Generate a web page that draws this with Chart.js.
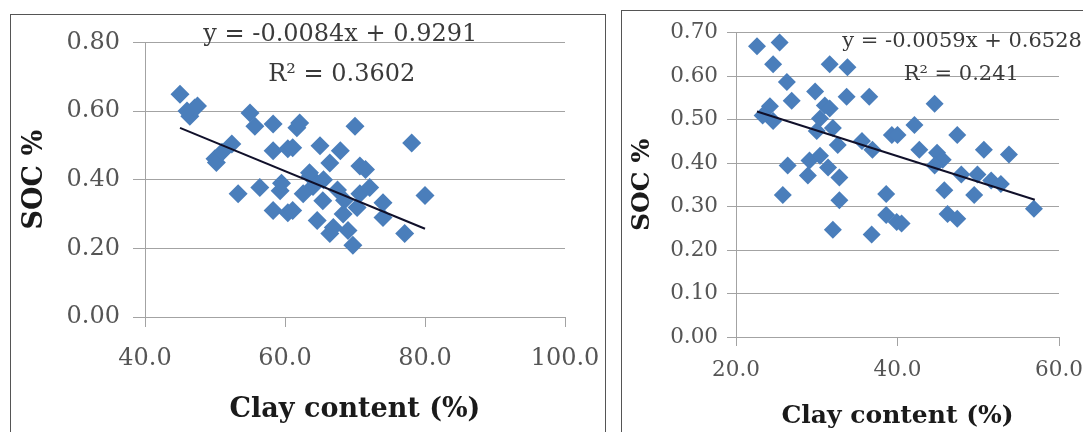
<!DOCTYPE html>
<html lang="en">
<head>
    <meta charset="UTF-8">
    <title>SOC vs clay content</title>
    <script src="https://cdn.jsdelivr.net/npm/chart.js"></script>
    <style>
        html, body {
            margin: 0;
            padding: 0;
            background: #fff;
            overflow: hidden;
        }
        body {
            position: relative;
            width: 1083px;
            height: 432px;
        }
        .panel {
            position: absolute;
            border: 1px solid #555;
            border-bottom: none;
            box-sizing: border-box;
        }
        #panelA { left: 10px; top: 14px; width: 596px; height: 430px; }
        #panelB { left: 621px; top: 10px; width: 480px; height: 440px; }
        canvas { position: absolute; }
        #chartA { left: 11px; top: 15px; }
        #chartB { left: 622px; top: 11px; }
    </style>
</head>
<body>
    <div class="panel" id="panelA"></div>
    <div class="panel" id="panelB"></div>
    <canvas id="chartA" width="593" height="417"></canvas>
    <canvas id="chartB" width="461" height="421"></canvas>

    <script>
        // left panel: clay content (%) vs SOC %
        const leftClay = [45.0, 46.4, 47.1, 46.0, 47.5, 50.0, 50.2, 51.0, 52.4, 53.3, 55.0, 55.7, 56.4, 58.3, 58.3, 58.3, 59.3, 60.4,
            60.4, 61.1, 61.7, 62.1, 61.1, 62.6, 63.6, 64.6, 65.0, 65.4, 66.4, 66.4, 66.9, 67.9, 68.3, 69.0, 69.7, 70.0,
            70.3, 70.7, 70.7, 72.1, 74.0, 74.0, 77.1, 78.1, 80.0, 63.5, 65.5, 67.5, 64.0, 59.5, 68.5, 71.5];
        const leftSOC = [0.649, 0.585, 0.609, 0.600, 0.615, 0.461, 0.450, 0.480, 0.504, 0.359, 0.594, 0.556, 0.377, 0.562, 0.484, 0.310, 0.368, 0.490,
            0.304, 0.493, 0.551, 0.565, 0.310, 0.359, 0.410, 0.281, 0.499, 0.339, 0.449, 0.243, 0.261, 0.484, 0.300, 0.252, 0.209, 0.556,
            0.319, 0.440, 0.359, 0.377, 0.333, 0.290, 0.243, 0.507, 0.354, 0.420, 0.400, 0.370, 0.380, 0.390, 0.340, 0.430];
        const leftTrendX = [45, 80];
        const leftTrendY = [0.551, 0.257];
        const leftEquation = ['y = -0.0084x + 0.9291', 'R\u00B2 = 0.3602'];

        // right panel
        const rightClay = [22.6, 25.4, 24.6, 31.6, 33.8, 26.3, 26.9, 29.8, 31.0, 31.6, 33.7, 36.5, 24.2, 24.6, 23.3, 30.4, 30.0, 32.0,
            32.6, 35.6, 36.9, 39.3, 26.4, 29.1, 30.4, 28.9, 31.4, 32.8, 25.8, 32.8, 38.6, 38.6, 32.0, 36.8, 39.9, 44.6,
            42.1, 47.4, 50.7, 53.8, 40.0, 42.7, 44.9, 45.6, 47.9, 49.9, 51.6, 52.8, 45.8, 49.5, 56.9, 46.2, 47.4, 40.5, 44.6];
        const rightSOC = [0.669, 0.678, 0.628, 0.628, 0.621, 0.587, 0.544, 0.565, 0.533, 0.526, 0.553, 0.553, 0.531, 0.497, 0.510, 0.503, 0.474, 0.481,
            0.442, 0.451, 0.431, 0.465, 0.395, 0.406, 0.417, 0.372, 0.390, 0.367, 0.327, 0.315, 0.329, 0.281, 0.247, 0.236, 0.265, 0.537,
            0.488, 0.465, 0.431, 0.420, 0.465, 0.431, 0.424, 0.408, 0.374, 0.374, 0.360, 0.352, 0.338, 0.327, 0.295, 0.283, 0.272, 0.261, 0.395];
        const rightTrendX = [22.6, 57];
        const rightTrendY = [0.519, 0.316];
        const rightEquation = ['y = -0.0059x + 0.6528', 'R\u00B2 = 0.241'];

        const xTitle = 'Clay content (%)';
        const yTitle = 'SOC %';

        const serif = '"DejaVu Serif", "Liberation Serif", serif';
        const gridColor = '#a3a3a3';

        // writes the trendline equation inside the plot
        const equationText = {
            id: 'equationText',
            afterDatasetsDraw(chart, args, opts) {
                const ctx = chart.ctx;
                const xs = chart.scales.x, ys = chart.scales.y;
                ctx.save();
                ctx.font = opts.size + 'px ' + serif;
                ctx.fillStyle = '#3a3a3a';
                ctx.textAlign = 'center';
                ctx.textBaseline = 'middle';
                opts.lines.forEach((txt, i) => {
                    ctx.fillText(txt, xs.getPixelForValue(opts.at[i][0]), ys.getPixelForValue(opts.at[i][1]));
                });
                ctx.restore();
            }
        };

        function toPoints(xs, ys) {
            return xs.map((x, i) => ({ x: x, y: ys[i] }));
        }

        function buildChart(id, o) {
            new Chart(document.getElementById(id), {
                type: 'scatter',
                data: {
                    datasets: [{
                        type: 'line',
                        data: toPoints(o.trendX, o.trendY),
                        borderColor: '#10102a',
                        borderWidth: 2,
                        pointRadius: 0,
                        order: 0
                    }, {
                        data: toPoints(o.clay, o.soc),
                        pointStyle: 'rectRot',
                        pointRadius: o.markerSize,
                        backgroundColor: '#4a7ebb',
                        borderColor: '#4a7ebb',
                        borderWidth: 0,
                        order: 1
                    }]
                },
                options: {
                    responsive: false,
                    animation: false,
                    layout: { padding: { top: o.padTop, right: o.padRight, left: 0, bottom: 0 } },
                    plugins: {
                        legend: { display: false },
                        tooltip: { enabled: false },
                        equationText: { lines: o.equation, at: o.eqAt, size: o.eqSize }
                    },
                    scales: {
                        x: {
                            type: 'linear',
                            min: o.xMin, max: o.xMax,
                            ticks: {
                                stepSize: 20,
                                callback: v => v.toFixed(1),
                                font: { family: serif, size: o.tickSize },
                                color: '#555',
                                padding: o.xTickPad,
                                maxRotation: 0
                            },
                            grid: { drawOnChartArea: false, tickLength: o.xTickLen, color: gridColor },
                            border: { color: gridColor },
                            title: {
                                display: true, text: xTitle, color: '#1a1a1a',
                                font: { family: serif, size: o.titleSize, weight: 'bold' },
                                padding: { top: o.xTitlePad, bottom: o.xTitlePad }
                            },
                            afterFit: s => {
                                s.height = o.xHeight;
                                // end labels may hang past the plot, like in the original
                                s.paddingLeft = 0;
                                s.paddingRight = 0;
                            }
                        },
                        y: {
                            min: 0, max: o.yMax,
                            ticks: {
                                stepSize: o.yStep,
                                callback: v => v.toFixed(2),
                                font: { family: serif, size: o.tickSize },
                                color: '#555',
                                padding: o.yTickPad
                            },
                            grid: { tickLength: o.yTickLen, color: gridColor },
                            border: { color: gridColor },
                            title: {
                                display: true, text: yTitle, color: '#1a1a1a',
                                font: { family: serif, size: o.titleSize, weight: 'bold' },
                                padding: { top: o.yTitlePad, bottom: o.yTitlePad }
                            },
                            afterFit: s => { s.width = o.yWidth; }
                        }
                    }
                },
                plugins: [equationText]
            });
        }

        buildChart('chartA', {
            clay: leftClay, soc: leftSOC, trendX: leftTrendX, trendY: leftTrendY,
            equation: leftEquation, eqAt: [[67.9, 0.823], [68.1, 0.707]], eqSize: 24,
            xMin: 40, xMax: 100, yMax: 0.8, yStep: 0.2,
            padTop: 25, padRight: 39, xHeight: 115, yWidth: 134,
            tickSize: 24, titleSize: 27, markerSize: 9.5,
            xTickLen: 10, xTickPad: 17, yTickLen: 12, yTickPad: 13,
            xTitlePad: 6, yTitlePad: 8
        });

        buildChart('chartB', {
            clay: rightClay, soc: rightSOC, trendX: rightTrendX, trendY: rightTrendY,
            equation: rightEquation, eqAt: [[48.0, 0.680], [47.9, 0.605]], eqSize: 21,
            xMin: 20, xMax: 60, yMax: 0.7, yStep: 0.1,
            padTop: 17, padRight: 24, xHeight: 95, yWidth: 114,
            tickSize: 21.5, titleSize: 25, markerSize: 9,
            xTickLen: 9, xTickPad: 12, yTickLen: 9, yTickPad: 9,
            xTitlePad: 1, yTitlePad: 5
        });
    </script>
</body>
</html>
